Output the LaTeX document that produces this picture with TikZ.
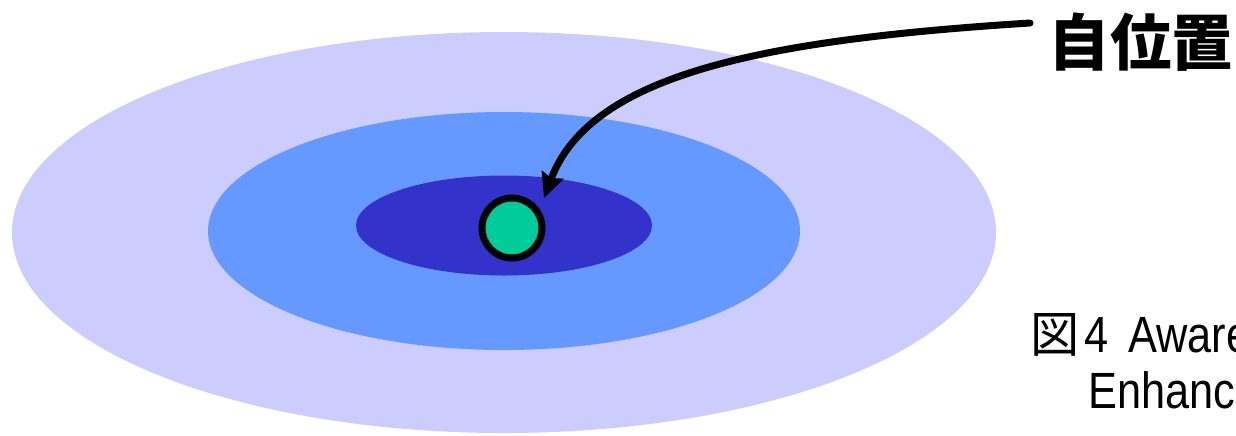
\documentclass[tikz,border=0pt]{standalone}
\usepackage{fontspec}
\setmainfont{Liberation Sans}[FakeStretch=0.85]
\newfontfamily\cjk{Noto Sans CJK JP}
\usetikzlibrary{arrows.meta,shapes.geometric}

\definecolor{zoneouter}{HTML}{CCCCFF}
\definecolor{zonemid}{HTML}{6699FF}
\definecolor{zoneinner}{HTML}{3333CC}
\definecolor{selfgreen}{HTML}{00CC99}

\begin{document}
\begin{tikzpicture}[
			>=Stealth,
			zone/.style={
				ellipse, draw=none, inner sep=0pt
			},
			selfpos/.style={
				circle, draw=black, line width=0.07cm,
				fill=selfgreen, minimum size=0.60cm, inner sep=0pt
			},
			pointer/.style={
				-{Stealth[length=7pt,width=6.5pt,inset=1pt]},
				line width=0.07cm, line cap=round, black
			},
			title/.style={font=\cjk\fontsize{17.5}{20}\selectfont\bfseries, anchor=west, inner sep=0pt},
			captext/.style={font=\fontsize{14.5}{16}\selectfont, anchor=base west, inner sep=0pt}
			]
			\useasboundingbox (0,0) rectangle (12.36,4.35);
			
			%% ── Awareness zones (concentric) ──────────────────────────────────
			\node[zone, fill=zoneouter, minimum width=9.84cm, minimum height=4.01cm] (outer) at (5.04, 2.025) {};
			\node[zone, fill=zonemid,   minimum width=5.92cm, minimum height=2.38cm] (middle) at (5.04, 2.04) {};
			\node[zone, fill=zoneinner, minimum width=2.96cm, minimum height=1.00cm] (inner) at (5.04, 2.095) {};
			
			%% ── Own position ──────────────────────────────────────────────────
			\node[selfpos] (self) at (5.12, 2.07) {};
			\coordinate (tip) at (5.44, 2.37);
			
			%% ── Label and pointer ─────────────────────────────────────────────
			\node[title] (jiichi) at (10.48, 3.93) {自位置};
			\coordinate (start) at (10.30, 4.12);
			\draw[pointer] (start) .. controls (7.6, 3.95) and (5.9, 3.6) .. (tip);
			
			%% ── Caption (runs past the right edge) ────────────────────────────
			\node[captext] (capA) at (10.30, 0.83) {{\cjk\fontsize{14}{16}\selectfont 図}\hspace{0.08em}4\hspace{0.4em}Aware};
			\node[captext] (capB) at (10.88, 0.27) {Enhanc};
			
		\end{tikzpicture}
\end{document}
